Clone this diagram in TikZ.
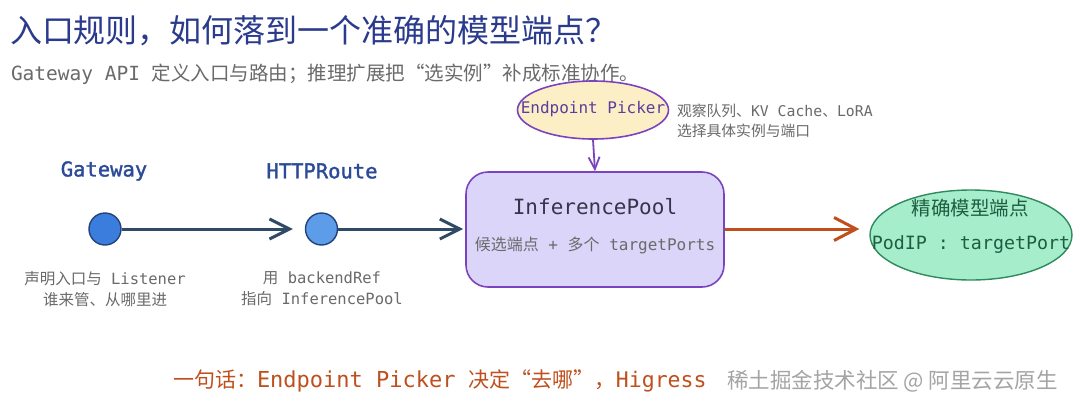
\documentclass[tikz,border=0pt]{standalone}
\usepackage{fontspec}
\setmainfont{Noto Sans CJK SC}
\newfontfamily\zhf{Noto Sans CJK SC}
\newfontfamily\mnf{DejaVu Sans Mono}
\newfontfamily\mnbf[FakeBold=1.6]{DejaVu Sans Mono}
\usetikzlibrary{arrows.meta,shapes.geometric}
\newcommand\mn[1]{{\mnf #1}}
\newcommand\fs[2]{\fontsize{#1}{#2}\selectfont}
\definecolor{titleblue}{HTML}{2A3A8C}
\definecolor{subgray}{HTML}{6A6A6A}
\definecolor{lblblue}{HTML}{2B4A98}
\definecolor{c1fill}{HTML}{3B7DDD}
\definecolor{c2fill}{HTML}{5C9CE9}
\definecolor{cborder}{HTML}{23427A}
\definecolor{darrow}{HTML}{2F4A66}
\definecolor{epfill}{HTML}{FCEFC6}
\definecolor{purp}{HTML}{7B44BE}
\definecolor{eptext}{HTML}{5A3E9E}
\definecolor{poolfill}{HTML}{DCD5FA}
\definecolor{pooltext}{HTML}{35354A}
\definecolor{orng}{HTML}{BF4F1C}
\definecolor{grfill}{HTML}{A6EDCB}
\definecolor{grborder}{HTML}{2F8A5C}
\definecolor{grtext}{HTML}{1E5E40}
\definecolor{wmark}{HTML}{A4A4A4}
\tikzset{
  txt/.style={inner sep=0pt, outer sep=0pt},
  lbl/.style={txt, text=lblblue, font=\mnbf\fs{20.5}{24}},
  dot/.style={circle, draw=cborder, line width=1.4pt, minimum size=32pt, inner sep=0pt},
  note/.style={txt, text=subgray, font=\fs{15.5}{21}, align=center},
  darr/.style={draw=darrow, line width=3pt, -{Straight Barb[length=20pt,width=20pt]}},
}
\begin{document}
\begin{tikzpicture}[x=1pt,y=-1pt]
\fill[white] (0,0) rectangle (1080,410);
\useasboundingbox (0,0) rectangle (1080,410);

% title and subtitle
\node[txt, anchor=west, text=titleblue, font=\fs{32}{36}] (title) at (10,31) {入口规则，如何落到一个准确的模型端点？};
\node[txt, anchor=west, text=subgray, font=\fs{19.5}{23}] (sub) at (11,74) {\mn{Gateway API }定义入口与路由；推理扩展把“选实例”补成标准协作。};

% Gateway & HTTPRoute
\node[lbl] (gwl) at (104,171) {Gateway};
\node[lbl] (hrl) at (322,171) {HTTPRoute};
\node[dot, fill=c1fill] (gw) at (105,229) {};
\node[dot, fill=c2fill] (hr) at (321.5,229) {};
\node[note] (gwn) at (105,289) {声明入口与\mn{ Listener}\\谁来管、从哪里进};
\node[note] (hrn) at (322,289) {用\mn{ backendRef}\\指向\mn{ InferencePool}};

% Endpoint Picker
\node[ellipse, draw=purp, line width=1.6pt, fill=epfill, minimum width=151pt, minimum height=58pt, inner sep=0pt] (ep) at (593,110) {};
\node[txt, text=eptext, font=\mnf\fs{16}{20}] (ept) at (593,109) {Endpoint Picker};
\node[txt, anchor=west, text=subgray, font=\fs{14.8}{20.5}, align=left] (epn) at (677,121) {观察队列、\mn{KV Cache}、\mn{LoRA}\\选择具体实例与端口};

% InferencePool
\node[draw=purp, line width=1.6pt, fill=poolfill, rounded corners=22pt, minimum width=258pt, minimum height=115pt, inner sep=0pt] (pool) at (595,229.5) {};
\node[txt, text=pooltext, font=\mnf\fs{21}{25}] (poolt) at (595,207) {InferencePool};
\node[txt, text=subgray, font=\fs{16}{20}] (pools) at (595,245.5) {候选端点\mn{ + }多个\mn{ targetPorts}};

% target
\node[ellipse, draw=grborder, line width=1.4pt, fill=grfill, minimum width=202pt, minimum height=90pt, inner sep=0pt] (tgt) at (971,235) {};
\node[txt, text=grtext, font=\fs{19.5}{24}] (tgtt) at (970,208) {精确模型端点};
\node[txt, text=grtext, font=\mnf\fs{18.3}{22}] (tgts) at (971,245) {PodIP : targetPort};

% connectors
\draw[darr, shorten >=12pt] (gw.east) -- (hr.west);
\draw[darr, shorten >=2pt] (hr.east) -- (hr.east -| pool.west);
\draw[draw=purp, line width=1.8pt, -{Straight Barb[length=12pt,width=11pt]}] (ep.south) -- (pool.north);
\draw[draw=orng, line width=3pt, shorten >=10pt, -{Straight Barb[length=22pt,width=23pt]}] (pool.east |- 0,229) -- (tgt.west |- 0,229);

% bottom line
\node[txt, anchor=west, text=orng, font=\fs{21}{25}] (bottom) at (173,381) {一句话：\mn{\fs{22}{25}Endpoint Picker }决定“去哪”，\mn{\fs{21.5}{25}Higress}};
\node[txt, anchor=west, text=wmark, font=\fs{21.5}{25}] (wm) at (727,381) {稀土掘金技术社区 @ 阿里云云原生};
\end{tikzpicture}
\end{document}
